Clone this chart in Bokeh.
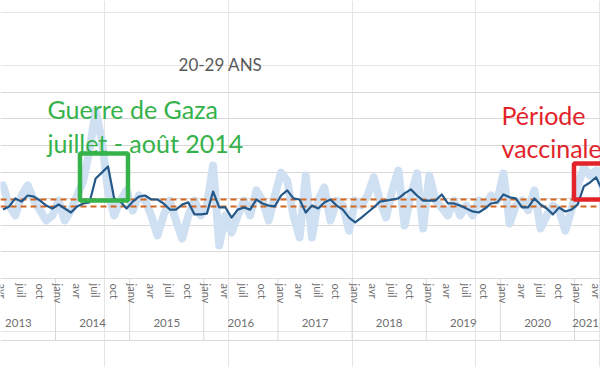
import math
from bokeh.plotting import figure
from bokeh.models import FixedTicker, Grid, Label, BoxAnnotation, Span
from bokeh.embed import file_html
from bokeh.resources import INLINE
from bokeh.core.properties import value

# ---------------- data ----------------
first_year = 2013
first_month = 3  # avril 2013 (0 = janv 2013)
years = [2013, 2014, 2015, 2016, 2017, 2018, 2019, 2020, 2021]
month_names = ["janv", "avr", "juil", "oct"]

# série mensuelle brute (bleu clair)
serie_mensuelle = [
    3.50, 2.74, 2.37, 3.12, 3.50, 2.93, 2.56, 2.18, 2.37, 2.93,
    2.18, 2.56, 3.12, 3.68, 4.81, 6.32, 5.19, 3.31, 2.37, 2.93,
    3.31, 2.56, 3.12, 2.93, 2.37, 1.62, 2.37, 2.93, 2.18, 1.50,
    2.37, 2.93, 2.37, 2.74, 4.25, 1.24, 2.37, 1.73, 2.37, 2.93,
    2.37, 3.31, 2.93, 2.18, 3.12, 3.98, 3.68, 2.37, 1.54, 3.87,
    1.54, 2.93, 3.42, 2.18, 2.93, 2.74, 1.80, 2.93, 2.74, 3.12,
    3.80, 2.93, 2.29, 3.31, 4.06, 1.99, 3.12, 3.95, 1.88, 3.87,
    2.93, 2.67, 2.37, 2.93, 2.37, 2.74, 2.37, 2.93, 2.74, 3.12,
    2.93, 3.95, 2.07, 2.74, 2.93, 2.56, 3.31, 1.88, 2.37, 2.74,
    2.56, 1.80, 2.56, 3.50, 4.17, 3.87, 4.06, 3.50, 2.44, 1.99,
]

# moyenne lissée (bleu foncé)
moyenne_lissee = [
    2.59, 2.71, 3.01, 2.89, 3.12, 3.08, 2.93, 2.74, 2.63, 2.78,
    2.63, 2.48, 2.71, 2.82, 2.86, 3.76, 3.98, 4.21, 3.01, 2.89,
    2.63, 2.89, 3.08, 3.12, 2.97, 2.97, 2.82, 2.59, 2.59, 2.78,
    2.86, 2.41, 2.41, 2.44, 3.27, 2.67, 2.67, 2.29, 2.59, 2.67,
    2.59, 2.97, 2.82, 2.74, 2.71, 3.12, 3.31, 3.01, 2.97, 2.48,
    2.74, 2.63, 2.86, 2.97, 2.74, 2.59, 2.29, 2.11, 2.29, 2.48,
    2.67, 2.89, 2.93, 2.97, 3.01, 3.20, 3.35, 3.12, 2.93, 2.93,
    2.93, 3.16, 2.82, 2.82, 2.74, 2.63, 2.52, 2.48, 2.63, 2.82,
    2.86, 3.16, 3.05, 3.01, 2.67, 2.67, 3.01, 2.78, 2.63, 2.41,
    2.67, 2.52, 2.59, 2.78, 3.46, 3.61, 3.80, 3.31, 2.82, 2.26,
]

seuil_haut = 2.97
seuil_bas = 2.69
grid_values = [1, 2, 3, 4, 5, 6, 7]

# ---------------- derived positions ----------------
X_START, X_END = 3.098, 100.20
n = min(len(serie_mensuelle), len(moyenne_lissee))
idx = [first_month + i for i in range(n)]
xs = [i + 0.5 for i in idx]
last_idx = idx[-1]

tick_x, tick_lab = [], []
for i in idx:
    if i % 3 == 0 and X_START <= i + 0.5 <= X_END:
        tick_x.append(i + 0.5)
        tick_lab.append(month_names[(i % 12) // 3])

year_x = []
for y in years:
    s = 12 * (y - first_year)
    e = min(s + 12, last_idx + 1)
    year_x.append(min((s + e) / 2, X_END - 2.4))
year_lab = [str(y) for y in years]
sep_x = [12 * (y - first_year) for y in years[1:]]

AX_BOTTOM = -2.33
FONT = "Lato"
GRAY = "#d9d9d9"

p = figure(width=600, height=367, x_range=(X_START, X_END), y_range=(-3.346, 10.45),
           output_backend="svg", toolbar_location=None,
           x_axis_location=None, y_axis_location=None,
           min_border=0, outline_line_color=None,
           background_fill_color="white", border_fill_color="white")

p.add_layout(Grid(dimension=1, ticker=FixedTicker(ticks=grid_values),
                  grid_line_color=GRAY, grid_line_width=1))

p.add_layout(Span(location=0, dimension="width", line_color=GRAY, line_width=1))
p.add_layout(Span(location=AX_BOTTOM, dimension="width", line_color=GRAY, line_width=1))
p.segment(x0=sep_x, y0=[0] * len(sep_x), x1=sep_x, y1=[AX_BOTTOM] * len(sep_x),
          line_color=GRAY, line_width=1)

p.text(x=tick_x, y=[-0.19] * len(tick_x), text=tick_lab, angle=-math.pi / 2,
       text_align="left", text_baseline="middle", text_font=value(FONT),
       text_font_size="11px", text_color="#6f6f6f")
p.text(x=year_x, y=[-1.69] * len(year_x), text=year_lab,
       text_align="center", text_baseline="middle", text_font=value(FONT),
       text_font_size="11.5px", text_color="#6f6f6f")

# series
p.line(xs, serie_mensuelle[:n], line_color="#cfe0f2", line_width=8,
       line_join="round", line_cap="round")
p.hspan(y=[seuil_haut, seuil_bas], line_color="#d2661e", line_width=2, line_dash="6 4")
p.line(xs, moyenne_lissee[:n], line_color="#245888", line_width=2.2, line_join="round")

# title
p.add_layout(Label(x=38.70, y=8.06, text="20-29 ANS", text_align="center",
                   text_baseline="middle", text_font=FONT, text_font_size="17px",
                   text_color="#595959"))

# annotations
GREEN = "#35b24a"
RED = "#e3232a"
p.add_layout(BoxAnnotation(left=15.96, right=23.73, bottom=2.93, top=4.70,
                           fill_color=None, fill_alpha=0, line_color=GREEN,
                           line_alpha=1.0, line_width=4.5))
p.add_layout(BoxAnnotation(left=95.91, right=101.57, bottom=2.97, top=4.32,
                           fill_color=None, fill_alpha=0, line_color=RED,
                           line_alpha=1.0, line_width=4.5))
p.add_layout(Label(x=10.70, y=6.39, text="Guerre de Gaza", text_baseline="alphabetic",
                   text_font=FONT, text_font_size="25px", text_color=GREEN))
p.add_layout(Label(x=10.70, y=5.11, text="juillet - août 2014", text_baseline="alphabetic",
                   text_font=FONT, text_font_size="25px", text_color=GREEN))
p.add_layout(Label(x=84.18, y=6.13, text="Période", text_baseline="alphabetic",
                   text_font=FONT, text_font_size="25px", text_color=RED))
p.add_layout(Label(x=84.18, y=4.89, text="vaccinale", text_baseline="alphabetic",
                   text_font=FONT, text_font_size="25px", text_color=RED))

open("out.html", "w").write(file_html(p, INLINE))
